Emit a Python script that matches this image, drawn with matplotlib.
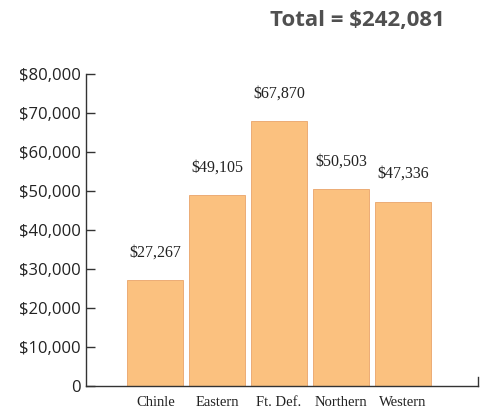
import matplotlib.pyplot as plt
from matplotlib.ticker import FuncFormatter

# Data
agencies = ['Chinle', 'Eastern', 'Ft. Def.', 'Northern', 'Western']
amounts = [27267, 49105, 67870, 50503, 47336]
total = 242081
yticks = [0, 10000, 20000, 30000, 40000, 50000, 60000, 70000, 80000]

fig = plt.figure(figsize=(4.86, 4.12), dpi=100)
ax = fig.add_axes([0.177, 0.063, 0.807, 0.757])

x = list(range(len(agencies)))
ax.bar(x, amounts, width=0.91, color='#fbc17f', edgecolor='#e9a46a', linewidth=0.6)

# value labels above the bars
for xi, v in zip(x, amounts):
    ax.annotate('${:,}'.format(v), (xi, v), xytext=(0, 14), textcoords='offset points',
                ha='center', va='bottom', fontsize=11.5, family='Liberation Serif',
                color='#222222')

ax.set_xlim(-1.12, 5.22)
ax.set_ylim(0, 80000)
ax.set_yticks(yticks)
ax.yaxis.set_major_formatter(FuncFormatter(lambda v, p: '0' if v == 0 else '${:,.0f}'.format(v)))
ax.set_xticks(x)
ax.set_xticklabels(agencies, family='Liberation Serif', fontsize=10.5, color='#222222')
ax.tick_params(axis='x', length=0, pad=7)
ax.tick_params(axis='y', direction='in', length=6.5, width=1, color='#333333',
               labelsize=12, pad=4, labelcolor='#222222')
for lab in ax.get_yticklabels():
    lab.set_family('Open Sans')

for s in ['top', 'right']:
    ax.spines[s].set_visible(False)
for s in ['left', 'bottom']:
    ax.spines[s].set_color('#333333')
    ax.spines[s].set_linewidth(1)

# small upturned end on the x axis
ax.plot([1, 1], [0, 0.028], transform=ax.transAxes, color='#333333', lw=1,
        clip_on=False)

fig.text(0.735, 0.95, 'Total = ${:,}'.format(total), ha='center', va='center',
         fontsize=16, fontweight='bold', family='Open Sans', color='#505050')

fig.savefig('out.png', dpi=100)
